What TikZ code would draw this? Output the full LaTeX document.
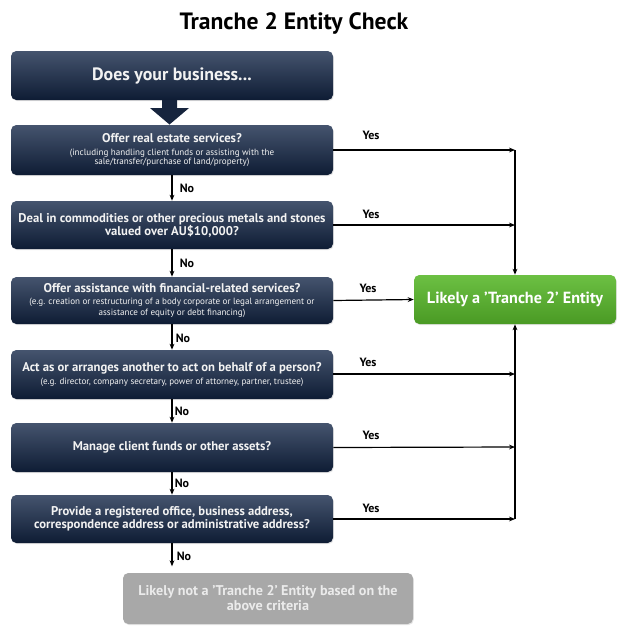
\documentclass[tikz,border=0pt]{standalone}
\usepackage{fontspec}
\setmainfont{PT Sans}
\usetikzlibrary{arrows.meta,shadows}
\definecolor{navytop}{HTML}{45546E}
\definecolor{navybot}{HTML}{0E1C34}
\definecolor{greentop}{HTML}{6CC043}
\definecolor{greenbot}{HTML}{4A9A24}
\definecolor{greybox}{HTML}{A8A8A8}
\definecolor{boxtext}{HTML}{F2F2F2}
\newcommand{\mainln}[1]{{\bfseries\fontsize{9.5}{9.75}\selectfont #1}}
\newcommand{\subln}[1]{{\fontsize{6.8}{7}\selectfont #1}}
\begin{document}
\begin{tikzpicture}[x=0.75pt,y=-0.75pt,
  qbox/.style={rectangle,rounded corners=4pt,top color=navytop,bottom color=navybot,
    draw=none,text=boxtext,align=center,minimum width=241.5pt,inner sep=1pt,
    font=\fontsize{9.5}{9.75}\selectfont,
    drop shadow={opacity=0.2,shadow xshift=0.6pt,shadow yshift=-0.8pt}},
  conn/.style={line width=0.9pt,-{Stealth[length=4.5pt,width=3.6pt]}},
  lab/.style={font=\bfseries\fontsize{9}{10}\selectfont,text=black,inner sep=0pt}
]
\useasboundingbox (0,0) rectangle (627,637);
\fill[white] (0,0) rectangle (627,637);

\node[font=\bfseries\fontsize{17.7}{20}\selectfont] (title) at (294,23) {Tranche 2 Entity Check};

\node[qbox,minimum height=36.75pt,font=\bfseries\fontsize{13.4}{15}\selectfont] (b0) at (172,75.5) {Does your business...};

\node[qbox,minimum height=37.5pt] (b1) at (172,150)
  {\mainln{Offer real estate services?}\\
   \subln{(including handling client funds or assisting with the}\\[-3pt]
   \subln{sale/transfer/purchase of land/property)}};

\node[qbox,minimum height=36pt] (b2) at (172,225)
  {\mainln{Deal in commodities or other precious metals and stones}\\
   \mainln{valued over AU\$10,000?}};

\node[qbox,minimum height=35.25pt] (b3) at (172,300.5)
  {\mainln{Offer assistance with financial-related services?}\\[-0.75pt]
   \subln{(e.g. creation or restructuring of a body corporate or legal arrangement or}\\[-1.5pt]
   \subln{assistance of equity or debt financing)}};

\node[qbox,minimum height=36.75pt] (b4) at (172,374.5)
  {\mainln{Act as or arranges another to act on behalf of a person?}\\
   \subln{(e.g. director, company secretary, power of attorney, partner, trustee)}};

\node[qbox,minimum height=36.75pt] (b5) at (172,447.5)
  {\mainln{Manage client funds or other assets?}};

\node[qbox,minimum height=36pt] (b6) at (172,519)
  {\mainln{Provide a registered office, business address,}\\
   \mainln{correspondence address or administrative address?}};

\node[qbox,top color=greentop,bottom color=greenbot,minimum width=151.5pt,minimum height=36.75pt,
  font=\bfseries\fontsize{12.1}{14}\selectfont,text=white] (yes) at (515,299.5) {Likely a 'Tranche 2' Entity};

\node[qbox,top color=greybox,bottom color=greybox,minimum width=217.5pt,minimum height=38.25pt,
  text=black!8,font=\bfseries\fontsize{10.6}{11.25}\selectfont] (no) at (268,598.5)
  {Likely not a 'Tranche 2' Entity based on the\\ above criteria};

% big arrow
\fill[navybot!85!navytop] (162,100) -- (177,100) -- (177,108) -- (189,108) -- (169.5,124.5)
  -- (150,108) -- (162,108) -- cycle;

% No arrows
\foreach \a/\b in {b1/b2,b2/b3,b3/b4,b4/b5,b5/b6}{
  \draw[conn] (\a.south) -- (\a.south |- \b.north);
}
\draw[conn] (b6.south) -- ++(0,23) coordinate (nend);
\node[lab] (n1) at (187,188) {No};
\node[lab] (n2) at (187,263) {No};
\node[lab] (n3) at (183,338) {No};
\node[lab] (n4) at (182,411) {No};
\node[lab] (n5) at (182,483) {No};
\node[lab] (n6) at (184,556) {No};

% Yes connectors
\coordinate (j1) at (515,150);
\coordinate (j2) at (515,225);
\coordinate (j4) at (515,374);
\coordinate (j5) at (515,447);
\coordinate (j6) at (515,519);
\draw[conn] (b1.east) -- (j1);
\draw[conn] (b2.east) -- (j2);
\draw[conn] (b3.east) -- (yes.west);
\draw[conn] (b4.east |- j4) -- (j4);
\draw[conn] (b5.east) -- (j5);
\draw[conn] (b6.east) -- (j6);
\draw[conn] (j1) -- (yes.north);
\draw[conn] (j6) -- (yes.south);

\node[lab] (y1) at (371,135) {Yes};
\node[lab] (y2) at (371,214) {Yes};
\node[lab] (y3) at (368,288) {Yes};
\node[lab] (y4) at (368,362) {Yes};
\node[lab] (y5) at (371,435) {Yes};
\node[lab] (y6) at (371,508) {Yes};
\end{tikzpicture}
\end{document}
